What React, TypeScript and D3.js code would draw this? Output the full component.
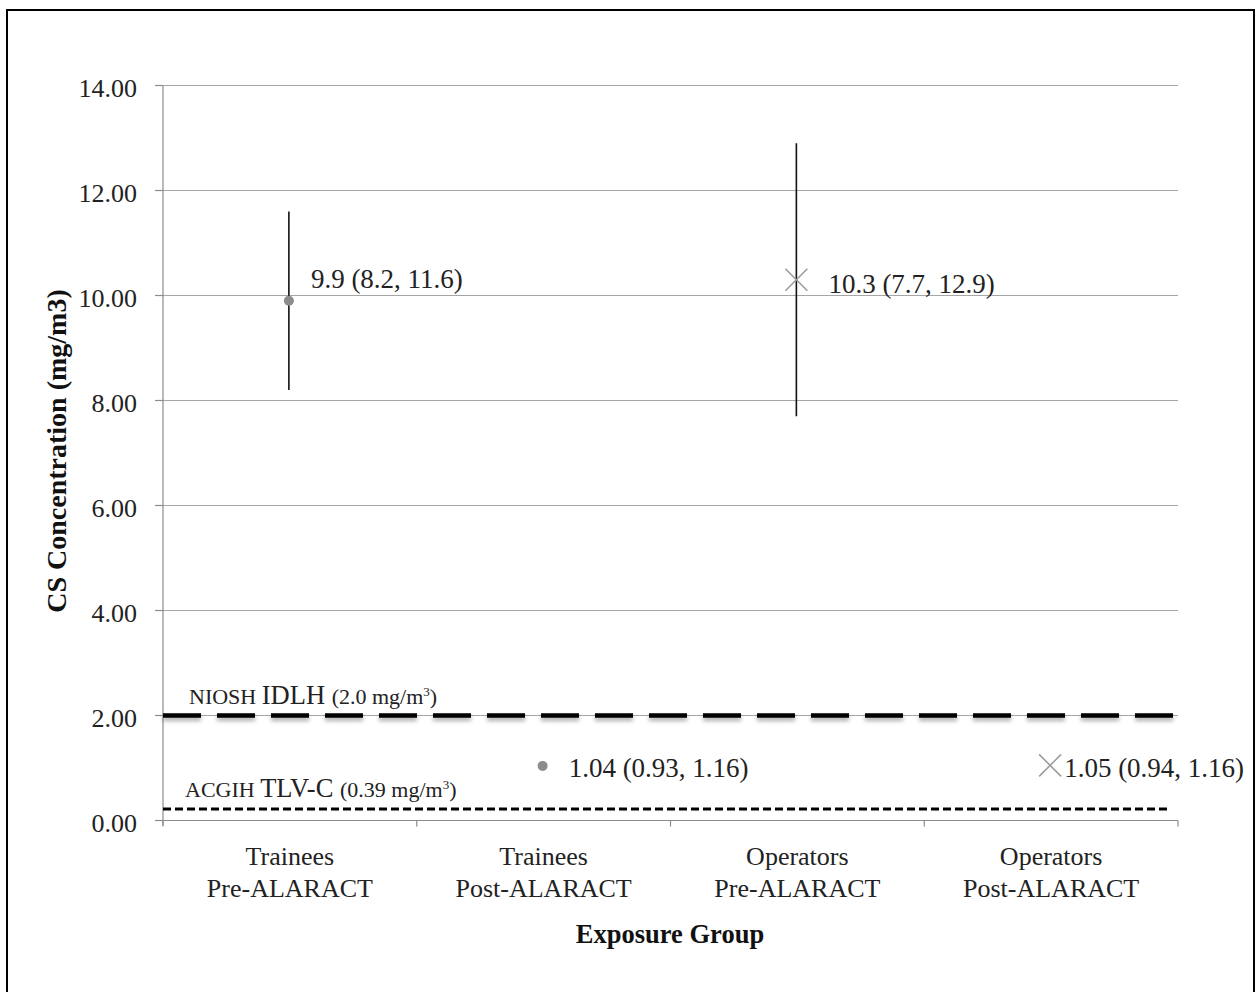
import React, { useEffect, useRef } from "react";
import * as d3 from "d3";

const categories = [
  ["Trainees", "Pre-ALARACT"],
  ["Trainees", "Post-ALARACT"],
  ["Operators", "Pre-ALARACT"],
  ["Operators", "Post-ALARACT"],
];
const means = [9.9, 1.04, 10.3, 1.05];
const lowers = [8.2, 0.93, 7.7, 0.94];
const uppers = [11.6, 1.16, 12.9, 1.16];
const markers = ["circle", "circle", "x", "x"];
const showBars = [true, false, true, false];
const pointLabels = ["9.9 (8.2, 11.6)", "1.04 (0.93, 1.16)", "10.3 (7.7, 12.9)", "1.05 (0.94, 1.16)"];
const yTicks = [0, 2, 4, 6, 8, 10, 12, 14];
const idlhValue = 2.0;
const tlvDrawnValue = 0.22;

export default function App() {
  const ref = useRef<SVGSVGElement>(null);
  useEffect(() => {
    const svg = d3.select(ref.current);
    svg.selectAll("*").remove();
    const font = "'Liberation Serif', 'Times New Roman', serif";
    const left = 163, right = 1178, top = 85.5, bottom = 820.5;

    const defs = svg.append("defs");
    const f = defs.append("filter").attr("id", "shadow").attr("filterUnits", "userSpaceOnUse")
      .attr("x", 0).attr("y", 0).attr("width", 1256).attr("height", 992);
    f.append("feDropShadow").attr("dx", 0).attr("dy", 3).attr("stdDeviation", 2)
      .attr("flood-color", "#000").attr("flood-opacity", 0.35);

    // border
    svg.append("rect").attr("x", 7).attr("y", 10).attr("width", 1247).attr("height", 990)
      .attr("fill", "white").attr("stroke", "#000").attr("stroke-width", 2);

    const x = d3.scaleBand<number>().domain(d3.range(categories.length)).range([left, right]).padding(0);
    const y = d3.scaleLinear().domain([0, 14]).range([bottom, top]);

    // gridlines
    svg.append("g").selectAll("line").data(yTicks.filter(t => t > 0)).join("line")
      .attr("x1", left).attr("x2", right).attr("y1", d => y(d)).attr("y2", d => y(d))
      .attr("stroke", "#a6a6a6").attr("stroke-width", 1.2);

    // y axis
    const ya = svg.append("g");
    ya.append("line").attr("x1", left).attr("x2", left).attr("y1", top).attr("y2", bottom + 5)
      .attr("stroke", "#8c8c8c").attr("stroke-width", 1.2);
    ya.selectAll("line.t").data(yTicks).join("line").attr("class", "t")
      .attr("x1", left - 8).attr("x2", left).attr("y1", d => y(d)).attr("y2", d => y(d))
      .attr("stroke", "#8c8c8c").attr("stroke-width", 1.2);
    ya.selectAll("text").data(yTicks).join("text")
      .attr("x", 137).attr("y", d => y(d) + 11).attr("text-anchor", "end")
      .attr("font-family", font).attr("font-size", 26).attr("fill", "#222")
      .text(d => d.toFixed(2));

    // x axis
    const xa = svg.append("g");
    xa.append("line").attr("x1", left).attr("x2", right).attr("y1", bottom).attr("y2", bottom)
      .attr("stroke", "#8c8c8c").attr("stroke-width", 1.2);
    const bounds = d3.range(categories.length + 1).map(i => i < categories.length ? x(i)! : right);
    xa.selectAll("line.t").data(bounds).join("line").attr("class", "t")
      .attr("x1", d => d).attr("x2", d => d).attr("y1", bottom).attr("y2", bottom + 6)
      .attr("stroke", "#8c8c8c").attr("stroke-width", 1.2);
    categories.forEach((c, i) => {
      const cx = x(i)! + x.bandwidth() / 2;
      const t = xa.append("text").attr("x", cx).attr("text-anchor", "middle")
        .attr("font-family", font).attr("font-size", 26).attr("fill", "#222");
      t.append("tspan").attr("x", cx).attr("y", 865).text(c[0]);
      t.append("tspan").attr("x", cx).attr("y", 897).text(c[1]);
    });

    // titles
    svg.append("text").attr("x", 670).attr("y", 943).attr("text-anchor", "middle")
      .attr("font-family", font).attr("font-size", 26.5).attr("font-weight", "bold").attr("fill", "#111")
      .text("Exposure Group");
    svg.append("text").attr("transform", "translate(66,451) rotate(-90)").attr("text-anchor", "middle")
      .attr("font-family", font).attr("font-size", 28).attr("font-weight", "bold").attr("fill", "#111")
      .text("CS Concentration (mg/m3)");

    // reference lines
    svg.append("line").attr("x1", left).attr("x2", right - 1).attr("y1", y(idlhValue)).attr("y2", y(idlhValue))
      .attr("stroke", "#000").attr("stroke-width", 4.5).attr("stroke-dasharray", "38,16")
      .attr("filter", "url(#shadow)");
    svg.append("line").attr("x1", left).attr("x2", 1170).attr("y1", y(tlvDrawnValue)).attr("y2", y(tlvDrawnValue))
      .attr("stroke", "#000").attr("stroke-width", 3).attr("stroke-dasharray", "8,4");

    const small = 22, big = 26.5, sup = 13;
    const lab1 = svg.append("text").attr("x", 189).attr("y", 704).attr("font-family", font).attr("fill", "#222");
    lab1.append("tspan").attr("font-size", small).text("NIOSH ");
    lab1.append("tspan").attr("font-size", big).text("IDLH ");
    lab1.append("tspan").attr("font-size", small).text("(2.0 mg/m");
    lab1.append("tspan").attr("font-size", sup).attr("dy", -8).text("3");
    lab1.append("tspan").attr("font-size", small).attr("dy", 8).text(")");

    const lab2 = svg.append("text").attr("x", 185).attr("y", 797).attr("font-family", font).attr("fill", "#222");
    lab2.append("tspan").attr("font-size", small).text("ACGIH ");
    lab2.append("tspan").attr("font-size", big).text("TLV-C ");
    lab2.append("tspan").attr("font-size", small).text("(0.39 mg/m");
    lab2.append("tspan").attr("font-size", sup).attr("dy", -8).text("3");
    lab2.append("tspan").attr("font-size", small).attr("dy", 8).text(")");

    // error bars and points
    const g = svg.append("g");
    means.forEach((m, i) => {
      const cx = x(i)! + x.bandwidth() / 2 - 1;
      if (showBars[i]) {
        g.append("line").attr("x1", cx).attr("x2", cx).attr("y1", y(lowers[i])).attr("y2", y(uppers[i]))
          .attr("stroke", "#111").attr("stroke-width", 1.6);
      }
      const cy = y(m);
      if (markers[i] === "circle") {
        g.append("circle").attr("cx", cx).attr("cy", cy).attr("r", 5).attr("fill", "#8c8c8c");
      } else {
        const s = 11;
        g.append("path").attr("d", `M${cx - s},${cy - s}L${cx + s},${cy + s}M${cx - s},${cy + s}L${cx + s},${cy - s}`)
          .attr("stroke", "#9a9a9a").attr("stroke-width", 1.5).attr("fill", "none");
      }
    });
    const labelDx = [22, 26, 32, 14];
    const labelDy = [-13, 11, 13, 12];
    means.forEach((m, i) => {
      const cx = x(i)! + x.bandwidth() / 2 - 1;
      g.append("text").attr("x", cx + labelDx[i]).attr("y", y(m) + labelDy[i])
        .attr("font-family", font).attr("font-size", 27).attr("fill", "#222").text(pointLabels[i]);
    });
  }, []);
  return (
    <svg ref={ref} width={1256} height={992} style={{ position: "absolute", left: 0, top: 0, background: "white" }} />
  );
}
